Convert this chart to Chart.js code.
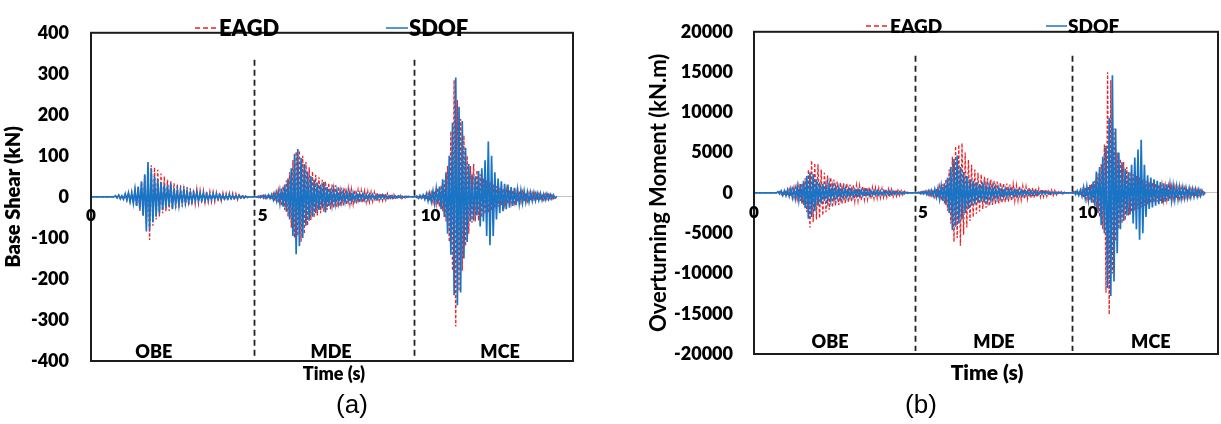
<!DOCTYPE html>
<html>
<head>
<meta charset="utf-8">
<title>Base shear and overturning moment histories</title>
<script src="https://cdn.jsdelivr.net/npm/chart.js@4.4.1/dist/chart.umd.min.js"></script>
<style>
  html, body { margin: 0; padding: 0; background: #fff; }
  #wrap { position: relative; width: 1221px; height: 424px; font-family: Lato, "Open Sans", sans-serif; }
  canvas { position: absolute; top: 0; }
  .lbl { position: absolute; transform: translate(-50%, -50%); white-space: nowrap; color: #000; }
  .cap { font-family: Arial, "Liberation Sans", sans-serif; font-size: 26px; }
</style>
</head>
<body>
<div id="wrap">
  <canvas id="shearChart" width="590" height="424" style="left:0"></canvas>
  <canvas id="momentChart" width="621" height="424" style="left:600px"></canvas>
  <div class="lbl" style="left:334px;top:373px;font-size:18px;font-weight:800">Time (s)</div>
  <div class="lbl" style="left:987px;top:371px;font-size:21px;font-weight:800">Time (s)</div>
  <div class="lbl cap" style="left:352px;top:404px">(a)</div>
  <div class="lbl cap" style="left:921px;top:404px">(b)</div>
</div>
<script>
// three ground motions run back to back: OBE, MDE, MCE
const recordNames = ['OBE', 'MDE', 'MCE'];
const recordStarts = [0.7, 5.1, 9.95];   // s, first sample of each record
const recordBoundaries = [5.02, 9.93];   // s, dashed separators
const timeTicks = [0, 5, 10];
const dt = 0.05;

// base shear (kN)
const shearEagdObe = [0,2,-3,5,-4,4,-7,6,-9,11, -10,13,-15,17,-24,22,-34,36,-48,52,
  -66,58,-105,77,-70,72,-55,66,-48,57, -40,50,-36,42,-34,38,-30,33,-28,31,
  -26,28,-24,26,-22,24,-21,21,-19,18, -17,19,-16,16,-15,15,-14,14,-13,13,
  -12,12,-12,11,-10,11,-10,10,-9,9, -9,10,-8,9,-8,8,-7,8,-6,6, -5,4,-2,0];
const shearEagdMde = [0,-2,3,-3,4,-4,5,-5,6,-7, 8,-10,12,-15,18,-22,26,-32,40,-48,
  60,-75,90,-100,110,-95,113,-109,100,-90, 85,-70,72,-56,62,-50,54,-45,48,-40,
  42,-36,38,-32,34,-30,30,-27,28,-25, 25,-23,23,-21,21,-19,20,-18,18,-17,
  17,-16,16,-15,15,-14,14,-13,13,-12, 12,-11,11,-10,10,-9,9,-9,8,-8,
  8,-7,7,-6,6,-5,5,-5,4,-4, 3,-3,2,-1,0];
const shearEagdMce = [0,-2,3,-3,4,-5,6,-7,9,-11, 10,-13,15,-18,22,-24,28,-35,40,-60,
  75,-110,160,-180,285,-316,236,-230,190,-180, 150,-120,100,-90,75,-63,80,-60,65,-58,
  55,-50,45,-42,40,-38,36,-34,30,-28, 26,-24,22,-20,20,-18,18,-17,16,-15,
  16,-14,14,-13,13,-12,12,-11,11,-10, 10,-10,9,-9,9,-8,8,-8,7,-7, 7,-6,6,-5,5,-4,3,0];
const shearSdofObe = [0,3,-2,4,-5,3,-6,8,-7,10, -12,9,-16,18,-22,25,-30,38,-45,55,
  -84,85,-78,70,-62,50,-48,42,-40,36, -32,30,-26,28,-22,34,-30,20,-18,16,
  -20,15,-14,17,-15,12,-13,11,-12,10, -9,12,-10,9,-8,10,-9,7,-8,6,
  -7,8,-6,7,-6,5,-6,5,-5,4, -5,6,-4,4,-4,3,-4,3,-3,2, -3,2,-1,0];
const shearSdofMde = [0,2,-2,3,-3,4,-3,5,-4,6, -7,9,-10,14,-16,20,-24,30,-36,45,
  -55,70,-95,105,-140,117,-120,95,-100,80, -70,62,-58,50,-48,42,-40,35,-32,30,
  -28,36,-38,24,-22,20,-19,18,-17,15, -15,14,-13,12,-12,11,-10,12,-11,9,
  -9,8,-9,8,-7,8,-7,6,-7,6, -5,6,-5,5,-5,4,-4,5,-4,4,
  -3,3,-3,3,-3,2,-2,2,-2,2, -1,1,-1,1,0];
const shearSdofMce = [0,2,-3,4,-3,5,-6,8,-10,9, -12,14,-16,20,-18,25,-30,43,-49,60,
  -90,100,-141,181,-240,291,-264,220,-233,185, -150,120,-110,80,-60,55,-58,50,-45,63,
  -72,70,-60,89,-95,135,-118,100,-95,60, -55,45,-40,38,-35,32,-30,30,-26,24,
  -22,22,-20,18,-17,16,-15,14,-13,12, -12,11,-10,11,-9,9,-8,9,-8,7, -7,8,-6,6,-5,5,-3,0];

// overturning moment (kN.m)
const momentEagdObe = [0,-100,150,-220,200,-300,320,-380,450,-480,
  520,-600,650,-750,850,-1000,1200,-1500,1800,-2400,
  2900,-4300,4020,-3600,3700,-3300,3550,-3130,2900,-2800,
  2500,-2400,2150,-2100,1900,-1800,1650,-1600,1400,-1500,
  1300,-1350,1200,-1250,1150,-1150,1050,-1100,950,-1000,
  900,-950,850,-880,800,-820,720,-780,700,-720,
  650,-680,620,-640,580,-600,520,-550,500,-520,
  460,-480,420,-440,380,-400,320,-330,280,-260, 200,-150,80,0];
const momentEagdMde = [0,-60,120,-130,180,-170,240,-260,310,-340,
  400,-480,560,-650,780,-900,1100,-1300,1700,-2200,
  2900,-3800,4500,-6100,5800,-5600,6000,-6570,6180,-5200,
  5000,-4300,4100,-3500,3480,-3000,2900,-2600,2500,-2300,
  2300,-2000,2000,-1850,1800,-1650,1650,-1500,1500,-1400,
  1400,-1300,1300,-1250,1200,-1150,1150,-1100,1050,-1000,
  1000,-950,900,-880,850,-820,800,-760,740,-700,
  680,-650,620,-600,580,-550,520,-500,480,-460,
  440,-420,390,-370,340,-320,290,-260,230,-200, 170,-140,100,-70,0];
const momentEagdMce = [0,-120,180,-230,280,-330,400,-600,700,-750,
  850,-950,1100,-1300,1500,-2000,2400,-3000,3600,-4500,
  6000,-12400,14980,-15100,14000,-10000,8000,-6000,5000,-4500,
  4200,-3800,3840,-3400,3200,-2800,2600,-2400,2300,-2200,
  2100,-2000,1900,-1800,1700,-1600,1500,-1400,1350,-1300,
  1250,-1200,1150,-1100,1050,-1000,1000,-950,900,-880,
  850,-820,800,-760,740,-700,680,-650,620,-600,
  580,-550,530,-500,480,-460,440,-420,400,-370, 330,-260,150,0];
const momentSdofObe = [0,150,-120,250,-300,280,-350,400,-420,500,
  -600,550,-700,800,-900,1100,-1300,1500,-1900,2100,
  -3200,2530,-3000,2300,-2200,1700,-1600,1300,-1350,1100,
  -1000,950,-900,1000,-850,750,-800,650,-600,620,
  -650,550,-500,560,-520,450,-480,420,-450,380,
  -360,420,-380,340,-320,360,-330,300,-320,280,
  -290,300,-260,280,-250,240,-260,230,-220,200,
  -220,240,-190,180,-180,150,-170,140,-130,100, -120,80,-50,0];
const momentSdofMde = [0,80,-100,150,-120,200,-220,250,-300,320,
  -380,450,-520,600,-750,850,-1000,1200,-1500,1900,
  -2500,3200,-4600,4220,-4200,4650,-3800,3200,-3300,2600,
  -2500,2100,-2000,1700,-1600,1500,-1400,1300,-1200,1100,
  -1050,1300,-1200,900,-850,800,-780,700,-680,640,
  -620,580,-560,520,-500,480,-460,440,-430,400,
  -390,370,-360,340,-330,310,-300,290,-280,260,
  -250,240,-230,220,-210,200,-190,180,-170,160,
  -150,140,-130,120,-110,100,-90,80,-70,60, -50,40,-30,20,0];
const momentSdofMce = [0,150,-200,250,-300,350,-420,700,-650,800,
  -900,1000,-1200,1400,-1600,2660,-2500,3200,-4000,4500,
  -5000,5860,-11800,9300,-12800,14600,-11000,8000,-7500,5000,
  -4500,3800,-3500,3000,-2800,2600,-2700,3500,-3800,4400,
  -4500,5400,-5800,6600,-5000,3500,-3000,2200,-2000,1900,
  -1800,1700,-1600,1500,-1400,1350,-1300,1200,-1100,1050,
  -1000,1000,-950,900,-850,800,-780,750,-700,680,
  -650,620,-600,580,-550,520,-500,480,-450,420, -380,300,-200,0];

const RED = '#ee2027';
const BLUE = '#1a74c6';

// join the three records into one time history, at rest from t = 0
function buildSeries(records) {
  const pts = [{ x: 0, y: 0 }];
  records.forEach((vals, r) => {
    vals.forEach((v, i) => pts.push({ x: recordStarts[r] + i * dt, y: v }));
  });
  return pts;
}

// frame, record separators, time labels on the zero line, record names and legend
const overlay = {
  id: 'overlay',
  afterDraw(chart, args, o) {
    const { ctx, chartArea: a, scales: { x } } = chart;
    ctx.save();

    ctx.strokeStyle = '#222';
    ctx.lineWidth = 1.8;
    ctx.setLineDash([6, 4]);
    recordBoundaries.forEach(t => {
      const px = Math.round(x.getPixelForValue(t)) + 0.5;
      ctx.beginPath();
      ctx.moveTo(px, a.top + o.dashTop);
      ctx.lineTo(px, a.bottom - 3);
      ctx.stroke();
    });
    ctx.setLineDash([]);

    ctx.strokeStyle = '#1c1c1c';
    ctx.lineWidth = 2;
    ctx.strokeRect(a.left, a.top, a.right - a.left, a.bottom - a.top);

    ctx.fillStyle = '#000';
    ctx.textBaseline = 'middle';
    ctx.font = o.tickFont;
    timeTicks.forEach(t => {
      const px = x.getPixelForValue(t);
      ctx.textAlign = t === 0 ? 'center' : 'left';
      ctx.fillText(String(t), t === 0 ? px : px + 4, o.tickY);
    });

    ctx.font = o.nameFont;
    ctx.textAlign = 'center';
    recordNames.forEach((name, i) => {
      ctx.fillText(name, x.getPixelForValue(o.nameAt[i]), o.nameY);
    });

    ctx.font = o.legendFont;
    ctx.textAlign = 'left';
    chart.data.datasets.forEach((ds, i) => {
      const item = o.legend[i];
      ctx.strokeStyle = ds.borderColor;
      ctx.lineWidth = 1.5;
      ctx.setLineDash(ds.borderDash ? [5, 3] : []);
      ctx.beginPath();
      ctx.moveTo(item.x, o.legendY);
      ctx.lineTo(item.x + item.w, o.legendY);
      ctx.stroke();
      ctx.setLineDash([]);
      ctx.fillText(ds.label, item.x + item.w + 1, o.legendY + 1);
    });

    ctx.restore();
  }
};

function makeChart(id, cfg) {
  return new Chart(document.getElementById(id), {
    type: 'line',
    data: {
      datasets: [
        { label: 'EAGD', data: buildSeries(cfg.eagd), borderColor: RED, borderWidth: 1.3,
          borderDash: [3, 2], pointRadius: 0, tension: 0, order: 2 },
        { label: 'SDOF', data: buildSeries(cfg.sdof), borderColor: BLUE, borderWidth: 1.7,
          pointRadius: 0, tension: 0, order: 1 }
      ]
    },
    options: {
      responsive: false,
      animation: false,
      events: [],
      layout: { padding: cfg.padding },
      scales: {
        x: { type: 'linear', min: 0, max: cfg.xMax, display: false },
        y: {
          min: -cfg.yMax,
          max: cfg.yMax,
          afterFit: s => { s.width = cfg.axisWidth; },
          ticks: {
            stepSize: cfg.yStep,
            padding: cfg.tickPad,
            color: '#000',
            font: { family: 'Lato', size: 18, weight: '800' },
            callback: v => String(v)
          },
          grid: {
            drawTicks: false,
            lineWidth: 1,
            color: c => (c.tick && c.tick.value === 0 ? '#c4c4c4' : 'rgba(0,0,0,0)')
          },
          border: { display: false },
          title: {
            display: true,
            text: cfg.yTitle,
            color: '#000',
            font: { family: 'Lato', size: cfg.titleSize, weight: cfg.titleWeight },
            padding: { top: cfg.titlePad, bottom: 0 }
          }
        }
      },
      plugins: {
        legend: { display: false },
        tooltip: { enabled: false },
        overlay: cfg.overlay
      }
    },
    plugins: [overlay]
  });
}

makeChart('shearChart', {
  eagd: [shearEagdObe, shearEagdMde, shearEagdMce],
  sdof: [shearSdofObe, shearSdofMde, shearSdofMce],
  yTitle: 'Base Shear (kN)',
  yMax: 400, yStep: 100, xMax: 14.8,
  axisWidth: 91, tickPad: 22, titleSize: 20, titleWeight: '800', titlePad: 2,
  padding: { left: 0, top: 13, right: 17, bottom: 63 },
  overlay: {
    dashTop: 27, tickY: 216, tickFont: '800 17px Lato',
    nameAt: [1.93, 7.37, 12.56], nameY: 352, nameFont: '800 18px Lato',
    legendY: 28, legendFont: '800 22px Lato',
    legend: [{ x: 195, w: 23 }, { x: 386, w: 22 }]
  }
});

makeChart('momentChart', {
  eagd: [momentEagdObe, momentEagdMde, momentEagdMce],
  sdof: [momentSdofObe, momentSdofMde, momentSdofMce],
  yTitle: 'Overturning Moment (kN.m)',
  yMax: 20000, yStep: 5000, xMax: 14.5,
  axisWidth: 154, tickPad: 21, titleSize: 22, titleWeight: 'bold', titlePad: 46,
  padding: { left: 0, top: 13, right: 3, bottom: 70 },
  overlay: {
    dashTop: 24, tickY: 213, tickFont: '800 17px Lato',
    nameAt: [2.375, 7.5, 12.4], nameY: 342, nameFont: '800 18px Lato',
    legendY: 26, legendFont: '800 19px Lato',
    legend: [{ x: 266, w: 23 }, { x: 446, w: 21 }]
  }
});
</script>
</body>
</html>
